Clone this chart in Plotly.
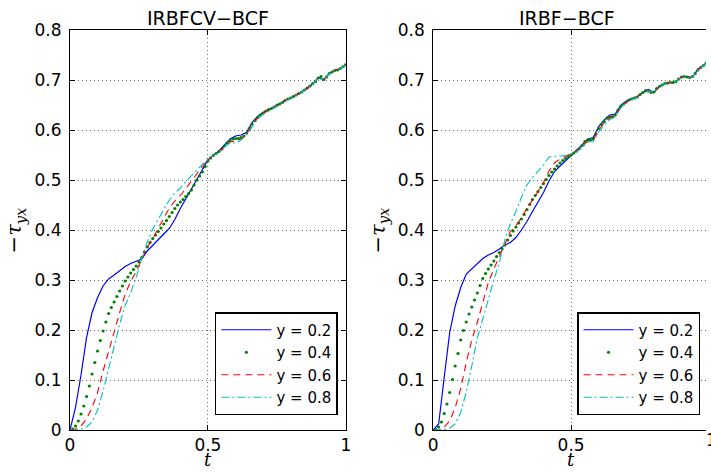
import plotly.graph_objects as go

# ---------------- data ----------------
t_line = [round(0.02 * i, 2) for i in range(51)]
t_dot = [round(0.01 * i, 2) for i in range(101)]
series_names = ["y = 0.2", "y = 0.4", "y = 0.6", "y = 0.8"]
panel_titles = ["IRBFCV−BCF", "IRBF−BCF"]
x_ticks = [0, 0.5, 1]
y_ticks = [0, 0.1, 0.2, 0.3, 0.4, 0.5, 0.6, 0.7, 0.8]

# left panel (IRBFCV-BCF)
L02 = [0.000, 0.045, 0.110, 0.185, 0.235, 0.265, 0.288, 0.302, 0.310, 0.318,
       0.327, 0.333, 0.337, 0.342, 0.358, 0.370, 0.381, 0.392, 0.403, 0.421,
       0.443, 0.462, 0.483, 0.501, 0.520,
       0.540, 0.550, 0.558, 0.570, 0.582, 0.588, 0.590, 0.595, 0.615, 0.627,
       0.635, 0.641, 0.645, 0.652, 0.660, 0.664, 0.670, 0.676, 0.683, 0.692,
       0.705, 0.700, 0.713, 0.720, 0.722, 0.731]
L04 = [0.000, 0.002, 0.008, 0.018, 0.032, 0.048, 0.067, 0.088, 0.112, 0.135,
       0.158, 0.179, 0.198, 0.216, 0.233, 0.245, 0.256, 0.267, 0.278, 0.288,
       0.298, 0.306, 0.314, 0.321, 0.328, 0.336, 0.345, 0.356, 0.366, 0.375,
       0.383, 0.390, 0.397, 0.404, 0.412, 0.419, 0.427, 0.435, 0.443, 0.450,
       0.456, 0.461, 0.467, 0.473, 0.480, 0.490, 0.500, 0.508, 0.516, 0.527,
       0.538, 0.544, 0.549, 0.553, 0.557, 0.562, 0.568, 0.574, 0.579, 0.582,
       0.583, 0.583, 0.585, 0.588, 0.594, 0.603, 0.612, 0.619, 0.625, 0.630,
       0.634, 0.638, 0.641, 0.643, 0.646, 0.650, 0.652, 0.655, 0.659, 0.662,
       0.664, 0.667, 0.670, 0.673, 0.676, 0.680, 0.684, 0.688, 0.693, 0.697,
       0.704, 0.707, 0.701, 0.706, 0.713, 0.716, 0.719, 0.720, 0.723, 0.727,
       0.731]
L06 = [0.000, 0.002, 0.008, 0.022, 0.045, 0.075, 0.118, 0.158, 0.195, 0.235,
       0.272, 0.297, 0.317, 0.342, 0.365, 0.383, 0.403, 0.425, 0.444, 0.458,
       0.469, 0.483, 0.498, 0.512, 0.527,
       0.540, 0.549, 0.556, 0.566, 0.576, 0.578, 0.582, 0.591, 0.610, 0.624,
       0.633, 0.640, 0.645, 0.651, 0.659, 0.664, 0.670, 0.676, 0.684, 0.693,
       0.704, 0.701, 0.713, 0.719, 0.723, 0.731]
L08 = [0.000, 0.000, 0.002, 0.006, 0.016, 0.040, 0.078, 0.125, 0.167, 0.212,
       0.249, 0.275, 0.305, 0.342, 0.376, 0.402, 0.421, 0.442, 0.460, 0.474,
       0.484, 0.497, 0.509, 0.521, 0.531,
       0.541, 0.549, 0.556, 0.566, 0.574, 0.574, 0.580, 0.590, 0.607, 0.622,
       0.631, 0.638, 0.644, 0.650, 0.658, 0.663, 0.669, 0.676, 0.683, 0.692,
       0.704, 0.701, 0.712, 0.719, 0.723, 0.731]

# right panel (IRBF-BCF)
R02 = [0.000, 0.012, 0.105, 0.195, 0.248, 0.285, 0.312, 0.322, 0.332, 0.343,
       0.350, 0.355, 0.362, 0.370, 0.375, 0.385, 0.400, 0.417, 0.437, 0.455,
       0.475, 0.498, 0.517, 0.528, 0.538,
       0.549, 0.558, 0.570, 0.582, 0.585, 0.607, 0.620, 0.630, 0.632, 0.649,
       0.658, 0.663, 0.667, 0.675, 0.681, 0.675, 0.687, 0.693, 0.695, 0.696,
       0.706, 0.707, 0.706, 0.722, 0.730, 0.738]
R04 = [0.000, 0.001, 0.006, 0.016, 0.033, 0.052, 0.075, 0.101, 0.128, 0.153,
       0.180, 0.199, 0.216, 0.232, 0.246, 0.260, 0.274, 0.289, 0.303, 0.313,
       0.322, 0.330, 0.338, 0.347, 0.355, 0.362, 0.370, 0.380, 0.389, 0.398,
       0.406, 0.414, 0.422, 0.431, 0.441, 0.451, 0.461, 0.469, 0.477, 0.485,
       0.493, 0.501, 0.509, 0.516, 0.522, 0.528, 0.534, 0.539, 0.543, 0.547,
       0.550, 0.554, 0.558, 0.563, 0.569, 0.577, 0.580, 0.580, 0.582, 0.592,
       0.603, 0.611, 0.617, 0.624, 0.626, 0.627, 0.630, 0.640, 0.647, 0.652,
       0.656, 0.660, 0.662, 0.664, 0.666, 0.671, 0.675, 0.679, 0.678, 0.675,
       0.676, 0.683, 0.687, 0.690, 0.693, 0.694, 0.695, 0.695, 0.697, 0.702,
       0.706, 0.707, 0.706, 0.705, 0.707, 0.713, 0.720, 0.725, 0.729, 0.734,
       0.738]
R06 = [0.000, 0.000, 0.006, 0.018, 0.045, 0.083, 0.135, 0.180, 0.215, 0.255,
       0.295, 0.322, 0.347, 0.372, 0.397, 0.408, 0.426, 0.443, 0.460, 0.477,
       0.495, 0.518, 0.534, 0.542, 0.547,
       0.552, 0.558, 0.567, 0.578, 0.580, 0.600, 0.614, 0.624, 0.628, 0.645,
       0.656, 0.662, 0.666, 0.674, 0.679, 0.676, 0.686, 0.692, 0.695, 0.697,
       0.706, 0.706, 0.706, 0.721, 0.729, 0.738]
R08 = [0.000, 0.000, 0.001, 0.004, 0.012, 0.035, 0.076, 0.128, 0.184, 0.222,
       0.262, 0.300, 0.335, 0.380, 0.413, 0.437, 0.465, 0.490, 0.505, 0.517,
       0.530, 0.546, 0.547, 0.548, 0.549,
       0.552, 0.556, 0.565, 0.576, 0.577, 0.596, 0.610, 0.621, 0.626, 0.644,
       0.655, 0.661, 0.665, 0.673, 0.678, 0.676, 0.685, 0.692, 0.694, 0.697,
       0.705, 0.706, 0.706, 0.720, 0.729, 0.738]

# ---------------- figure ----------------
TICKFONT = dict(family="DejaVu Sans", size=17, color="black")
BLUE, GREEN, RED, CYAN = "#0000ff", "#008000", "#ff0000", "#00bfbf"

fig = go.Figure()

panels = [
    ("x", "y", "legend", L02, L04, L06, L08),
    ("x2", "y2", "legend2", R02, R04, R06, R08),
]
for xa, ya, lg, s02, s04, s06, s08 in panels:
    fig.add_trace(go.Scatter(x=t_line, y=s02, mode="lines", name=series_names[0],
                             line=dict(color=BLUE, width=1.2), xaxis=xa, yaxis=ya, legend=lg))
    fig.add_trace(go.Scatter(x=t_dot, y=s04, mode="markers", name=series_names[1],
                             marker=dict(color=GREEN, size=3.2), xaxis=xa, yaxis=ya, legend=lg))
    fig.add_trace(go.Scatter(x=t_line, y=s06, mode="lines", name=series_names[2],
                             line=dict(color=RED, width=1.1, dash="7px,5px"), xaxis=xa, yaxis=ya, legend=lg))
    fig.add_trace(go.Scatter(x=t_line, y=s08, mode="lines", name=series_names[3],
                             line=dict(color=CYAN, width=1.1, dash="8px,3px,2px,3px"), xaxis=xa, yaxis=ya, legend=lg))

axis_common = dict(
    showline=True, linecolor="black", linewidth=1,
    ticks="inside", ticklen=5, tickcolor="black", tickwidth=1,
    showgrid=True, gridcolor="rgba(0,0,0,0.6)", griddash="1px,3px", gridwidth=1,
    zeroline=False, tickfont=TICKFONT,
)

W, H = 711, 472
ML, MR, MT, MB = 70, 0, 30, 42
PW = W - ML - MR
PH = H - MT - MB

def px_x(p):
    return (p - ML) / PW

def px_y(p):
    return (H - MB - p) / PH

LEGFONT = dict(family="DejaVu Sans", size=15, color="black")
ytext = ["0", "0.1", "0.2", "0.3", "0.4", "0.5", "0.6", "0.7", "0.8"]
fig.update_layout(
    width=W, height=H,
    margin=dict(l=ML, r=MR, t=MT, b=MB),
    paper_bgcolor="white", plot_bgcolor="white",
    xaxis=dict(domain=[0, px_x(348)], range=[0, 1], tickvals=x_ticks,
               ticktext=["0", "0.5", "1"], anchor="y", mirror="ticks", **axis_common),
    yaxis=dict(domain=[0, 1], range=[0, 0.8], tickvals=y_ticks, ticktext=ytext,
               anchor="x", ticklabelstandoff=4, mirror="ticks", **axis_common),
    xaxis2=dict(domain=[px_x(436), 1], range=[0, 0.989], tickvals=x_ticks,
                ticktext=["0", "0.5", "1"], anchor="y2", mirror="ticks", **axis_common),
    yaxis2=dict(domain=[0, 1], range=[0, 0.8], tickvals=y_ticks, ticktext=ytext,
                anchor="x2", ticklabelstandoff=4, mirror=False, **axis_common),
    legend=dict(x=px_x(340), y=px_y(415), xanchor="right", yanchor="bottom",
                bgcolor="white", bordercolor="black", borderwidth=1.5,
                font=LEGFONT, tracegroupgap=0, itemwidth=50),
    legend2=dict(x=px_x(705), y=px_y(415), xanchor="right", yanchor="bottom",
                 bgcolor="white", bordercolor="black", borderwidth=1.5,
                 font=LEGFONT, tracegroupgap=0, itemwidth=50),
    showlegend=True,
)

ann = []
titlefont = dict(family="DejaVu Sans", size=19, color="black")
ann.append(dict(text=panel_titles[0], x=px_x(209), y=px_y(18), xref="paper", yref="paper",
                showarrow=False, font=titlefont, xanchor="center", yanchor="middle"))
ann.append(dict(text=panel_titles[1], x=px_x(571), y=px_y(18), xref="paper", yref="paper",
                showarrow=False, font=titlefont, xanchor="center", yanchor="middle"))
labfont = dict(family="DejaVu Serif", size=21, color="black")
for xp in (15, 381):
    ann.append(dict(text="−<i>τ</i><sub><i>yx</i></sub>", x=px_x(xp), y=px_y(230),
                    xref="paper", yref="paper", showarrow=False, textangle=-90,
                    font=labfont, xanchor="center", yanchor="middle"))
for xp in (209, 575):
    ann.append(dict(text="<i>t</i>", x=px_x(xp), y=px_y(472), xref="paper", yref="paper",
                    showarrow=False, font=dict(family="DejaVu Serif", size=18, color="black"),
                    xanchor="center", yanchor="bottom"))
# tick label "1" of the right panel, cut by the image edge
ann.append(dict(text="1", x=px_x(717), y=px_y(440), xref="paper", yref="paper",
                showarrow=False, font=TICKFONT, xanchor="center", yanchor="middle"))
fig.update_layout(annotations=ann)

fig.write_html("out.html", config={"displayModeBar": False},
               post_script="document.body.style.margin='0';document.body.style.overflow='hidden';")
